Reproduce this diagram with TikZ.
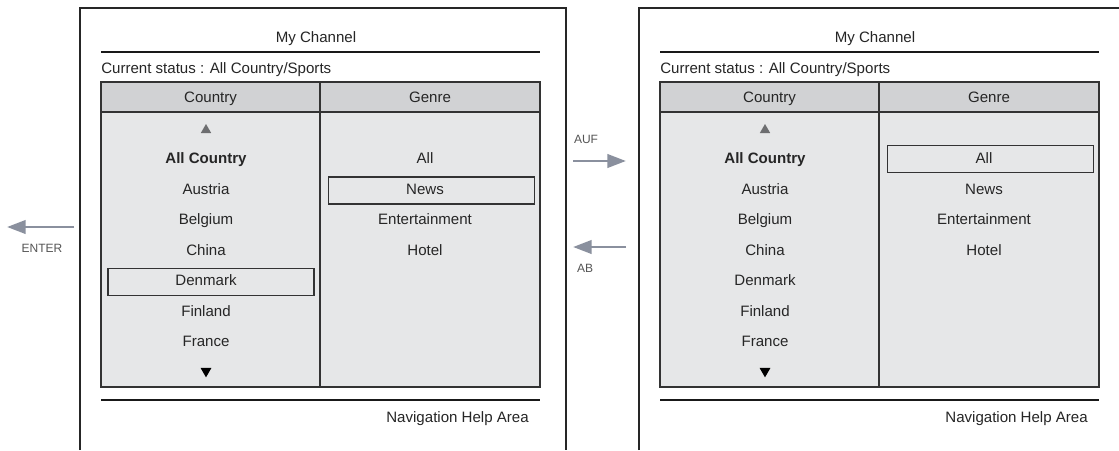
\documentclass[tikz,border=0pt]{standalone}
\usepackage{fontspec}
\setmainfont{Liberation Sans}
\usetikzlibrary{arrows.meta,shapes.geometric}
\definecolor{tblfill}{HTML}{E6E7E8}
\definecolor{hdrfill}{HTML}{D1D2D4}
\definecolor{arrowc}{HTML}{8A909E}
\definecolor{txtc}{HTML}{262626}
\definecolor{lblc}{HTML}{555555}
\definecolor{upc}{HTML}{6D6E70}
\tikzset{
  frame/.style={draw=black!85, line width=0.8pt},
  rulebar/.style={draw=black!90, line width=2pt},
  tablebox/.style={draw=black!80, line width=0.8pt},
  txt/.style={text=txtc, font=\fontsize{11.3}{13}\selectfont, inner sep=0pt, text height=8pt, text depth=0pt},
  boldtxt/.style={txt, font=\fontsize{11.3}{13}\selectfont\bfseries},
  selbox/.style={draw=black!80, line width=0.9pt, minimum width=154.5pt, minimum height=20.25pt, inner sep=0pt},
  uptri/.style={regular polygon, regular polygon sides=3, fill=upc, minimum size=9pt, inner sep=0pt},
  downtri/.style={regular polygon, regular polygon sides=3, shape border rotate=180, fill=black, minimum size=9.5pt, inner sep=0pt},
  navarrow/.style={draw=arrowc, line width=2.2pt, -{Triangle[length=14pt,width=10pt]}},
  keylbl/.style={text=lblc, font=\fontsize{9}{11}\selectfont, inner sep=0pt, text height=6.5pt, text depth=0pt},
}
\newcommand\screenpanel{%
  \draw[frame] (80,450) -- (80,8) -- (566,8) -- (566,450);
  \node[txt] (title) at (316,37) {My Channel};
  \draw[rulebar] (101,52) -- (540,52);
  \node[txt,anchor=west] (status) at (101,68) {Current status : All Country/Sports};
  \filldraw[tablebox, fill=tblfill] (101,82) rectangle (540,387);
  \filldraw[tablebox, fill=hdrfill] (101,82) rectangle (540,112);
  \draw[tablebox] (320,82) -- (320,387);
  \node[txt] (hC) at (210.5,97) {Country};
  \node[txt] (hG) at (430,97) {Genre};
  \node[uptri] (up) at (206,130) {};
  \node[boldtxt] (c1) at (206,158.5) {All Country};
  \node[txt] (c2) at (206,189) {Austria};
  \node[txt] (c3) at (206,219.5) {Belgium};
  \node[txt] (c4) at (206,250) {China};
  \node[txt] (c5) at (206,280.5) {Denmark};
  \node[txt] (c6) at (206,311) {Finland};
  \node[txt] (c7) at (206,341.5) {France};
  \node[downtri] (down) at (206,371) {};
  \node[txt] (g1) at (425,158.5) {All};
  \node[txt] (g2) at (425,189) {News};
  \node[txt] (g3) at (425,219.5) {Entertainment};
  \node[txt] (g4) at (425,250) {Hotel};
  \draw[rulebar] (101,400) -- (540,400);
  \node[txt,anchor=east] (help) at (529,417) {Navigation Help Area};
}
\begin{document}
\begin{tikzpicture}[x=0.75pt,y=-0.75pt]
  \useasboundingbox (0,0) rectangle (1119,450);
  \clip (0,0) rectangle (1119,450);
  \fill[white] (0,0) rectangle (1119,450);
  % left screen
  \begin{scope}[name prefix=L-]
    \screenpanel
    \node[selbox] (selG) at (431.5,190.5) {};
    \node[selbox] (selC) at (211,282) {};
  \end{scope}
  % right screen
  \begin{scope}[shift={(559,0)}, name prefix=R-]
    \screenpanel
    \node[selbox] (selG) at (431.5,159) {};
  \end{scope}
  % key arrows
  \coordinate (enterTail) at (74,227);
  \coordinate (enterTip) at (7,227);
  \draw[navarrow] (enterTail) -- (enterTip);
  \node[keylbl] (enterLbl) at (42,248) {ENTER};
  \coordinate (aufTail) at (573,161);
  \coordinate (aufTip) at (626,161);
  \draw[navarrow] (aufTail) -- (aufTip);
  \node[keylbl] (aufLbl) at (586,139) {AUF};
  \coordinate (abTail) at (626,247);
  \coordinate (abTip) at (573,247);
  \draw[navarrow] (abTail) -- (abTip);
  \node[keylbl] (abLbl) at (585,268) {AB};
\end{tikzpicture}
\end{document}
